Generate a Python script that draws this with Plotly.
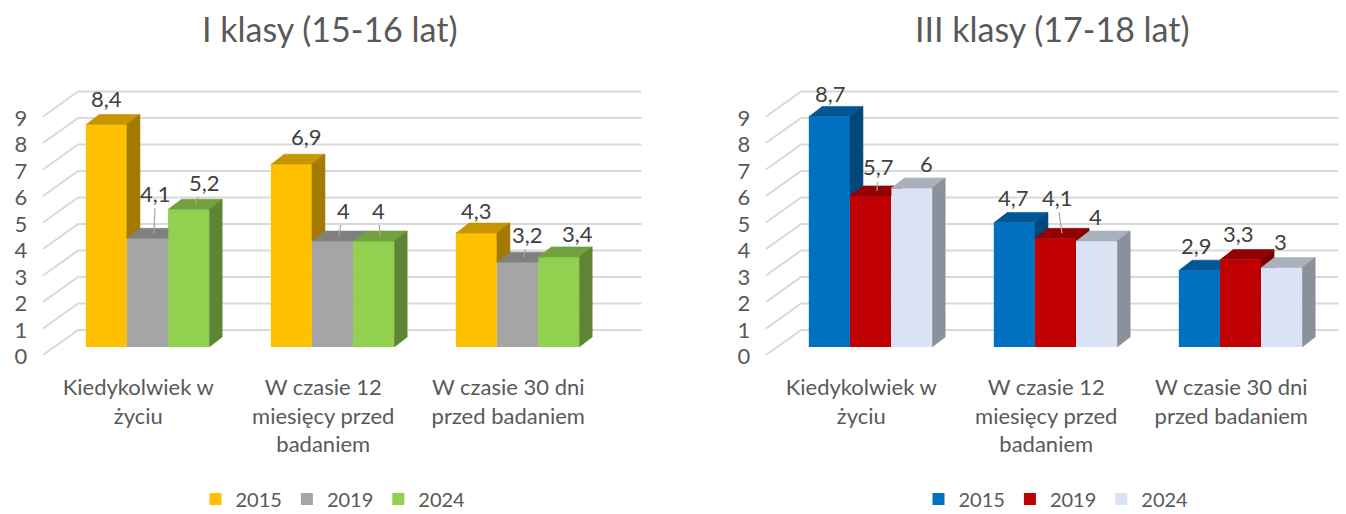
import plotly.graph_objects as go

# ---------------- data ----------------
categories = ["Kiedykolwiek w<br>życiu",
              "W czasie 12<br>miesięcy przed<br>badaniem",
              "W czasie 30 dni<br>przed badaniem"]
years = ["2015", "2019", "2024"]
titles = ["I klasy (15-16 lat)", "III klasy (17-18 lat)"]

klasa1_2015 = [8.4, 6.9, 4.3]
klasa1_2019 = [4.1, 4.0, 3.2]
klasa1_2024 = [5.2, 4.0, 3.4]

klasa3_2015 = [8.7, 4.7, 2.9]
klasa3_2019 = [5.7, 4.1, 3.3]
klasa3_2024 = [6.0, 4.0, 3.0]

y_ticks = [0, 1, 2, 3, 4, 5, 6, 7, 8, 9]

# ---------------- styles ----------------
colors_left = ["#FFC000", "#A5A5A5", "#92D050"]
colors_right = ["#0070C0", "#C00000", "#DAE3F3"]

# label offsets (pixels) and whether a leader line is drawn -- placement only
label_off_left = [[(-6, -21), (9, -23), (-6, -18)],
                  [(1.5, -40), (4, -26), (3.5, -23)],
                  [(9, -22), (-2, -26), (12, -18)]]
leader_left = [[False, False, False], [True, True, True], [True, True, False]]
label_off_right = [[(-5.5, -18), (-7.5, -20), (-9, -20)],
                   [(1.5, -24), (-5, -36), (-8.5, -21)],
                   [(8.5, -20), (-8, -20), (-8, -21)]]
leader_right = [[False, False, False], [True, True, False], [False, False, False]]

FONT = "Lato"
TXT = "#595959"
LBL = "#404040"
GRID = "#D9D9D9"

W, H = 1346, 514
PX_X = 185.0          # pixels per category
PX_Y = 26.5           # pixels per unit
BASE_PX = 347.0       # pixel row of the bar base
ORIGIN_PX = [147.5, 870.5]
XRANGES = [(-0.58, 2.70), (-0.58, 2.56)]
YRANGE = (-0.5, 10.5)
BAR_W = 1 / 4.5
DX = 13 / PX_X
DY = 10 / PX_Y
FLOOR_FRONT = -8 / PX_Y
FLOOR_BACK = 17 / PX_Y
GRID_FRONT_X = -0.565
GRID_BACK_X = -0.375


def shade(hexc, f):
    r, g, b = int(hexc[1:3], 16), int(hexc[3:5], 16), int(hexc[5:7], 16)
    return "#%02X%02X%02X" % (int(r * f), int(g * f), int(b * f))


def clip_above(poly, g):
    out = []
    n = len(poly)
    for i in range(n):
        p, q = poly[i], poly[(i + 1) % n]
        pin, qin = p[1] >= g, q[1] >= g
        if pin:
            out.append(p)
        if pin != qin:
            t = (g - p[1]) / (q[1] - p[1])
            out.append((p[0] + t * (q[0] - p[0]), g))
    return out if len(out) >= 3 else None


def faces(xl, h, g):
    xr = xl + BAR_W
    top = [(xl, h), (xr, h), (xr + DX, h + DY), (xl + DX, h + DY)]
    side = [(xr, 0), (xr + DX, DY), (xr + DX, h + DY), (xr, h)]
    if g is not None and g > 0:
        if g >= h + DY:
            top = [(xl, h), (xr, h), (xr, h + DY), (xl + DX, h + DY)]
        elif g > h:
            top = [(xl, h), (xr, h), (xr, g), (xr + (g - h) * DX / DY, g),
                   (xr + DX, h + DY), (xl + DX, h + DY)]
        side = clip_above(side, g)
    return top, side


def poly_xy(polys):
    xs, ys = [], []
    for p in polys:
        if p is None:
            continue
        for (a, b) in p:
            xs.append(a)
            ys.append(b)
        xs.append(None)
        ys.append(None)
    return xs, ys


fig = go.Figure()
annotations = []
shapes = []

panels = [
    dict(series=[klasa1_2015, klasa1_2019, klasa1_2024], colors=colors_left,
         offs=label_off_left, leads=leader_left, xa="x", ya="y", legend="legend"),
    dict(series=[klasa3_2015, klasa3_2019, klasa3_2024], colors=colors_right,
         offs=label_off_right, leads=leader_right, xa="x2", ya="y2", legend="legend2"),
]

centers = list(range(len(categories)))

for pi, pnl in enumerate(panels):
    series = pnl["series"]
    # front faces as bars
    for j, (vals, col) in enumerate(zip(series, pnl["colors"])):
        xs = [c + (j - 1) * BAR_W for c in centers]
        fig.add_trace(go.Bar(
            x=xs, y=vals, width=BAR_W, name=years[j],
            marker=dict(color=col, line=dict(width=0)),
            xaxis=pnl["xa"], yaxis=pnl["ya"], legend=pnl["legend"],
            hoverinfo="skip"))
    # top and side faces, drawn left to right
    for j, (vals, col) in enumerate(zip(series, pnl["colors"])):
        tops, sides = [], []
        for ci, c in enumerate(centers):
            xl = c + (j - 1.5) * BAR_W
            nxt = series[j + 1][ci] if j + 1 < len(series) else None
            t, s = faces(xl, vals[ci], nxt)
            tops.append(t)
            sides.append(s)
        for polys, f in ((tops, 0.78), (sides, 0.64)):
            px, py = poly_xy(polys)
            fc = shade(col, f)
            fig.add_trace(go.Scatter(
                x=px, y=py, mode="lines", fill="toself", fillcolor=fc,
                line=dict(color=fc, width=0.6), showlegend=False,
                hoverinfo="skip", xaxis=pnl["xa"], yaxis=pnl["ya"]))
        # data labels
        for ci, c in enumerate(centers):
            v = vals[ci]
            ax, ay = pnl["offs"][j][ci]
            lead = pnl["leads"][j][ci]
            annotations.append(dict(
                x=c + (j - 1) * BAR_W + DX / 2, y=v + DY / 2,
                xref=pnl["xa"], yref=pnl["ya"],
                text=("%g" % v).replace(".", ","),
                showarrow=True, arrowhead=0, arrowwidth=1.2,
                arrowcolor="#A6A6A6" if lead else "rgba(0,0,0,0)",
                ax=ax, ay=ay, font=dict(family=FONT, size=22, color=LBL)))
    # perspective gridlines
    xend = XRANGES[pi][1] - 0.03
    for k in y_ticks:
        shapes.append(dict(
            type="path", xref=pnl["xa"], yref=pnl["ya"], layer="below",
            path="M %f,%f L %f,%f L %f,%f" % (GRID_FRONT_X, k + FLOOR_FRONT,
                                               GRID_BACK_X, k + FLOOR_BACK,
                                               xend, k + FLOOR_BACK),
            line=dict(color=GRID, width=2)))


def xdomain(pi):
    lo, hi = XRANGES[pi]
    return [(ORIGIN_PX[pi] + lo * PX_X) / W, (ORIGIN_PX[pi] + hi * PX_X) / W]


ytop_px = BASE_PX - YRANGE[1] * PX_Y
ybot_px = BASE_PX - YRANGE[0] * PX_Y
ydom = [(H - ybot_px) / H, (H - ytop_px) / H]

xaxis_common = dict(showgrid=False, zeroline=False, showline=False, ticks="",
                    tickvals=[c - 0.05 for c in centers], ticktext=categories,
                    tickfont=dict(family=FONT, size=22, color=TXT),
                    ticklabelstandoff=12, fixedrange=True, automargin=False)
yaxis_common = dict(showgrid=False, zeroline=False, showline=False, ticks="",
                    range=list(YRANGE),
                    tickvals=[k + FLOOR_FRONT - 0.05 for k in y_ticks],
                    ticktext=[str(k) for k in y_ticks],
                    tickfont=dict(family=FONT, size=22, color=TXT),
                    ticklabelstandoff=12, domain=ydom, fixedrange=True,
                    automargin=False)

for pi, t in enumerate(titles):
    cx = [330, 1052][pi]
    annotations.append(dict(x=cx / W, y=1 - 28 / H, xref="paper", yref="paper",
                            text=t, showarrow=False, xanchor="center", yanchor="middle",
                            font=dict(family=FONT, size=34, color=TXT)))

legend_common = dict(orientation="h", xanchor="center", yanchor="middle",
                     y=1 - 499 / H, font=dict(family=FONT, size=20, color=TXT),
                     bgcolor="rgba(0,0,0,0)", itemclick=False, itemdoubleclick=False)

fig.update_layout(
    width=W, height=H, margin=dict(l=0, r=0, t=0, b=0, pad=0, autoexpand=False),
    paper_bgcolor="white", plot_bgcolor="white",
    barmode="overlay", showlegend=True,
    xaxis=dict(xaxis_common, range=list(XRANGES[0]), domain=xdomain(0), anchor="y"),
    yaxis=dict(yaxis_common, anchor="x"),
    xaxis2=dict(xaxis_common, range=list(XRANGES[1]), domain=xdomain(1), anchor="y2"),
    yaxis2=dict(yaxis_common, anchor="x2"),
    legend=dict(legend_common, x=333 / W),
    legend2=dict(legend_common, x=1056 / W),
    annotations=annotations, shapes=shapes,
    font=dict(family=FONT, color=TXT),
)

fig.write_html("out.html", config={"displayModeBar": False},
               post_script="document.body.style.margin='0px';")
